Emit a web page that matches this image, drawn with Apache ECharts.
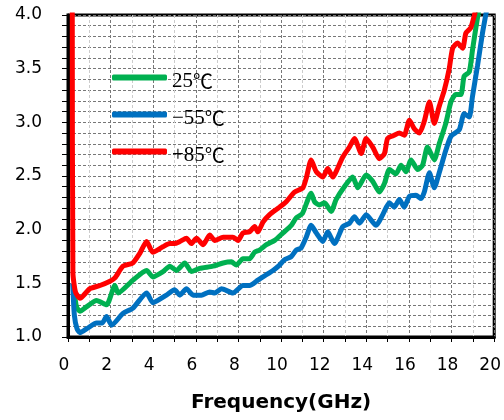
<!DOCTYPE html>
<html>
<head>
<meta charset="utf-8">
<script src="https://cdn.jsdelivr.net/npm/echarts@6/dist/echarts.min.js"></script>
<style>
  html, body { margin: 0; padding: 0; background: #fff; }
  #main { width: 504px; height: 420px; }
</style>
</head>
<body>
<div id="main"></div>
<script>
// frequency (GHz) / value pairs
var freq25 = [0.25, 0.4, 0.56, 0.86, 1.34, 1.81, 2.2, 2.35, 3.05, 3.69, 3.98, 4.46, 4.78, 5.09, 5.48, 5.79, 6.18, 6.8, 7.28, 7.67, 7.9, 8.21, 8.52, 8.76, 8.99, 9.31, 9.7, 10.09, 10.48, 10.71, 11.0, 11.41, 11.57, 11.8, 12.04, 12.35, 12.58, 12.97, 13.36, 13.6, 13.99, 14.3, 14.61, 14.85, 15.08, 15.39, 15.63, 15.86, 16.1, 16.41, 16.64, 16.87, 17.19, 17.42, 17.73, 17.97, 18.2, 18.44, 18.59, 18.83, 18.98, 19.14, 19.28];
var val25  = [1.48, 1.28, 1.24, 1.28, 1.34, 1.30, 1.48, 1.41, 1.53, 1.62, 1.56, 1.61, 1.66, 1.62, 1.69, 1.61, 1.64, 1.66, 1.69, 1.70, 1.67, 1.73, 1.73, 1.79, 1.81, 1.86, 1.90, 1.97, 2.04, 2.11, 2.15, 2.34, 2.26, 2.23, 2.25, 2.17, 2.28, 2.40, 2.49, 2.39, 2.51, 2.45, 2.35, 2.43, 2.56, 2.52, 2.60, 2.54, 2.65, 2.56, 2.60, 2.77, 2.65, 2.80, 2.99, 3.19, 3.26, 3.26, 3.43, 3.47, 3.67, 3.88, 4.05];

var freqM55 = [0.22, 0.3, 0.42, 0.56, 0.9, 1.34, 1.6, 1.81, 2.05, 2.58, 3.05, 3.69, 3.98, 4.62, 5.0, 5.25, 5.56, 5.87, 6.26, 6.65, 6.89, 7.2, 7.74, 8.21, 8.52, 8.91, 9.31, 9.62, 9.93, 10.16, 10.48, 10.71, 10.94, 11.18, 11.41, 11.65, 11.96, 12.19, 12.5, 12.9, 13.21, 13.44, 13.68, 13.99, 14.46, 14.77, 15.08, 15.31, 15.55, 15.78, 16.02, 16.33, 16.57, 16.72, 16.96, 17.19, 17.42, 17.73, 17.97, 18.36, 18.59, 18.83, 18.98, 19.22, 19.45, 19.65];
var valM55  = [1.50, 1.20, 1.08, 1.04, 1.08, 1.13, 1.13, 1.19, 1.11, 1.22, 1.27, 1.41, 1.32, 1.39, 1.44, 1.39, 1.45, 1.39, 1.39, 1.42, 1.41, 1.45, 1.41, 1.48, 1.48, 1.53, 1.58, 1.62, 1.67, 1.72, 1.75, 1.81, 1.83, 1.93, 2.04, 1.97, 1.89, 1.98, 1.87, 2.03, 2.06, 2.12, 2.06, 2.14, 2.04, 2.14, 2.25, 2.21, 2.28, 2.21, 2.31, 2.32, 2.29, 2.35, 2.53, 2.39, 2.53, 2.74, 2.87, 2.93, 3.08, 3.05, 3.24, 3.53, 3.83, 4.05];

var freqP85 = [0.2, 0.23, 0.35, 0.56, 1.03, 1.5, 1.97, 2.2, 2.58, 3.04, 3.37, 3.69, 3.98, 4.45, 4.78, 5.0, 5.25, 5.56, 5.79, 6.03, 6.34, 6.65, 6.89, 7.28, 7.74, 7.98, 8.21, 8.52, 8.76, 8.91, 9.15, 9.46, 9.93, 10.24, 10.63, 11.02, 11.18, 11.41, 11.65, 11.96, 12.19, 12.43, 12.65, 12.9, 13.21, 13.44, 13.76, 13.99, 14.3, 14.61, 14.85, 15.0, 15.31, 15.55, 15.78, 16.02, 16.25, 16.49, 16.72, 16.96, 17.19, 17.42, 17.66, 17.89, 18.05, 18.28, 18.52, 18.67, 18.9, 19.06, 19.2];
var valP85  = [4.10, 1.60, 1.42, 1.36, 1.45, 1.48, 1.52, 1.55, 1.66, 1.69, 1.78, 1.89, 1.79, 1.84, 1.87, 1.87, 1.89, 1.92, 1.87, 1.92, 1.86, 1.95, 1.90, 1.93, 1.93, 1.90, 1.97, 1.98, 2.03, 1.98, 2.07, 2.14, 2.21, 2.26, 2.35, 2.39, 2.48, 2.65, 2.54, 2.49, 2.57, 2.49, 2.57, 2.68, 2.77, 2.85, 2.71, 2.85, 2.77, 2.66, 2.71, 2.85, 2.88, 2.90, 2.88, 3.02, 2.94, 2.90, 3.01, 3.19, 2.99, 3.15, 3.30, 3.50, 3.69, 3.74, 3.69, 3.83, 3.88, 3.99, 4.10];

var seriesNames = ['25℃', '−55℃', '+85℃'];
var seriesColors = ['#00B050', '#0070C0', '#FF0000'];

function pairs(xs, ys) {
  return xs.map(function (x, i) { return [x, ys[i]]; });
}

var chart = echarts.init(document.getElementById('main'));
chart.setOption({
  animation: false,
  grid: {
    left: 68, right: 9, top: 15, bottom: 83,
    show: true, borderColor: '#000', borderWidth: 3
  },
  legend: {
    data: seriesNames,
    orient: 'vertical',
    left: 112, top: 71,
    padding: 0,
    icon: 'roundRect',
    itemWidth: 55, itemHeight: 6,
    itemGap: 16,
    // number in a serif face, degree sign as a full-width CJK glyph
    formatter: function (name) {
      return '{n|' + name.replace('℃', '') + '}{c|℃}';
    },
    textStyle: {
      color: '#000',
      padding: [8, 0, 0, 0],
      rich: {
        n: { fontFamily: "'Liberation Serif', serif", fontSize: 21, color: '#000' },
        c: { fontFamily: "'Noto Sans CJK JP'", fontSize: 20, color: '#000' }
      }
    }
  },
  xAxis: {
    type: 'value',
    min: 0, max: 20, interval: 2,
    name: 'Frequency(GHz)',
    nameLocation: 'middle',
    nameGap: 56,
    nameTextStyle: { fontFamily: 'DejaVu Sans', fontSize: 20, fontWeight: 'bold', color: '#000' },
    axisLine: { lineStyle: { color: '#000', width: 3 } },
    axisTick: { show: true, length: 5, lineStyle: { color: '#000' } },
    minorTick: { show: true, splitNumber: 2, length: 5, lineStyle: { color: '#000' } },
    axisLabel: { fontFamily: 'DejaVu Sans', fontSize: 17, color: '#000', margin: 20, padding: [0, 8, 0, 0] },
    splitLine: { show: true, lineStyle: { color: '#777', type: [3, 2], width: 1 } },
    minorSplitLine: { show: true, lineStyle: { color: '#ccc', type: [3, 2], width: 1 } }
  },
  yAxis: {
    type: 'value',
    min: 1, max: 4, interval: 0.5,
    axisLine: { show: true, lineStyle: { color: '#000', width: 3 } },
    axisTick: { show: true, length: 6, lineStyle: { color: '#000' } },
    minorTick: { show: true, splitNumber: 5, length: 6, lineStyle: { color: '#000' } },
    axisLabel: {
      fontFamily: 'DejaVu Sans', fontSize: 17, color: '#000', margin: 26,
      formatter: function (v) { return v.toFixed(1); }
    },
    splitLine: { show: true, lineStyle: { color: '#777', type: [3, 2], width: 1 } },
    minorSplitLine: { show: true, lineStyle: { color: '#777', type: [3, 2], width: 1 } }
  },
  series: [
    { name: seriesNames[0], type: 'line', data: pairs(freq25, val25) },
    { name: seriesNames[1], type: 'line', data: pairs(freqM55, valM55) },
    { name: seriesNames[2], type: 'line', data: pairs(freqP85, valP85) }
  ].map(function (s, i) {
    s.showSymbol = false;
    s.smooth = 0.2;
    s.color = seriesColors[i];
    s.lineStyle = { width: 5, color: seriesColors[i] };
    return s;
  })
});
</script>
</body>
</html>
